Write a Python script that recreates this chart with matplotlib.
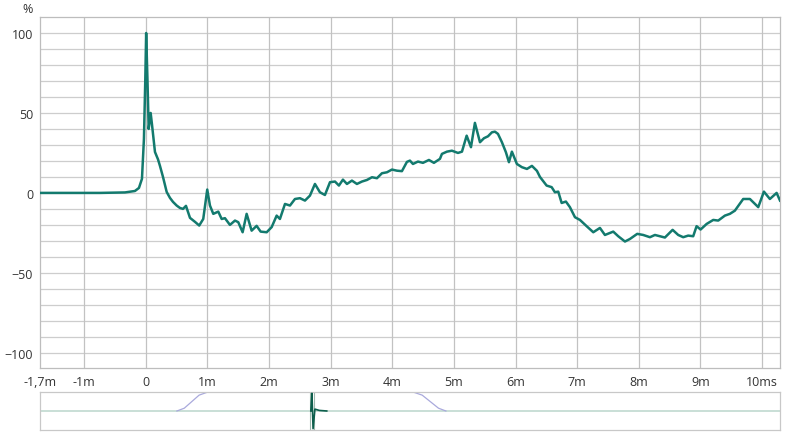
import matplotlib
matplotlib.use("Agg")
import matplotlib.pyplot as plt

plt.rcParams['font.family'] = ['Open Sans', 'DejaVu Sans']

# impulse response, time in ms, amplitude in %
t_ms = [-1.714, -0.741, -0.336, -0.174, -0.109, -0.060, -0.028, -0.006, 0.008, 0.029,
        0.049, 0.081, 0.102, 0.151, 0.200, 0.232, 0.281, 0.341, 0.394, 0.443,
        0.503, 0.556, 0.605, 0.654, 0.719, 0.800, 0.869, 0.934, 0.999, 1.043,
        1.097, 1.178, 1.233, 1.286, 1.367, 1.449, 1.502, 1.573, 1.638, 1.719,
        1.800, 1.865, 1.963, 2.044, 2.125, 2.178, 2.260, 2.341, 2.422, 2.503,
        2.584, 2.665, 2.746, 2.827, 2.908, 2.990, 3.071, 3.135, 3.200, 3.265,
        3.346, 3.427, 3.508, 3.590, 3.671, 3.752, 3.833, 3.914, 3.995, 4.076,
        4.157, 4.238, 4.287, 4.336, 4.417, 4.498, 4.595, 4.676, 4.774, 4.806,
        4.887, 4.968, 5.066, 5.131, 5.207, 5.277, 5.341, 5.423, 5.488, 5.553,
        5.617, 5.666, 5.715, 5.779, 5.844, 5.893, 5.941, 6.022, 6.103, 6.185,
        6.266, 6.347, 6.396, 6.504, 6.586, 6.639, 6.693, 6.748, 6.817, 6.882,
        6.964, 7.045, 7.153, 7.261, 7.369, 7.450, 7.585, 7.666, 7.775, 7.856,
        7.974, 8.071, 8.180, 8.261, 8.342, 8.423, 8.548, 8.639, 8.720, 8.801,
        8.882, 8.937, 9.002, 9.100, 9.207, 9.288, 9.396, 9.477, 9.558, 9.693,
        9.802, 9.937, 10.029, 10.126, 10.235, 10.29]
amp = [0, 0, 0.3, 1.2, 3.1, 8.8, 33.8, 71, 100, 71,
       40, 50, 43, 25.6, 21, 16.9, 10, 0.6, -3.1, -5.6,
       -7.9, -9.4, -10, -8.1, -15.6, -18.1, -20.4, -16.3, 2.1, -7.9,
       -13.1, -11.7, -16.3, -15.8, -20, -17.3, -18.3, -24.6, -13.1, -23.6,
       -20.6, -24.2, -24.6, -21.4, -14.2, -16.3, -6.9, -7.9, -3.8, -3.3,
       -4.8, -1.7, 5.6, 0.4, -1.3, 6.7, 7.1, 4.6, 8.3, 5.6,
       7.7, 5.6, 7.1, 8.1, 9.8, 9.2, 12.3, 12.9, 14.6, 13.9,
       13.6, 19.4, 20.2, 18.1, 19.6, 18.8, 20.6, 18.8, 21.3, 24.4,
       25.8, 26.4, 25, 25.8, 35.8, 28.6, 43.8, 31.7, 34.2, 35.4,
       37.9, 38.3, 36.9, 31.7, 25.4, 19.2, 25.8, 18.1, 16.1, 15,
       16.9, 13.8, 10, 4.6, 3.6, 0.4, 0.8, -6.3, -5.4, -8.9,
       -15.2, -16.9, -20.8, -24.6, -21.9, -26.3, -24.2, -27.1, -30.4, -28.8,
       -25.6, -26.3, -27.7, -26.3, -27.1, -27.9, -23.1, -26.3, -27.7, -26.7,
       -27.1, -20.8, -22.9, -19.4, -16.9, -17.3, -14.2, -13.1, -11.1, -3.8,
       -3.8, -8.9, 0.8, -3.8, 0, -4.8]

x_ticks = [-1.714, -1, 0, 1, 2, 3, 4, 5, 6, 7, 8, 9, 10]
x_labels = ['-1,7m', '-1m', '0', '1m', '2m', '3m', '4m', '5m', '6m', '7m', '8m', '9m', '10ms']
y_ticks = [-100, -50, 0, 50, 100]

# overview strip: window and impulse over the full capture
win_t = [-36.5, -34.5, -32.5, -30.5, -28.4, 27.6, 29.8, 32.0, 34.2, 36.2]
win_v = [0, 0.15, 0.5, 0.85, 1, 1, 0.85, 0.5, 0.15, 0]
imp_t = [-0.3, 0, 0.3, 0.8, 2.0, 4.0]
imp_v = [0, 0.95, -0.95, 0.1, 0.03, 0]

teal = '#137a6e'
text_c = '#333333'

fig = plt.figure(figsize=(8, 4.35), dpi=100)
ax = fig.add_axes([0.05, 0.1517, 0.925, 0.808])
ax.set_xlim(-1.714, 10.29)
ax.set_ylim(-109.5, 110.3)

for v in range(-100, 101, 10):
    ax.axhline(v, color='#cdcdcd', lw=0.9, zorder=1)
for v in x_ticks[1:]:
    ax.axvline(v, color='#c2c2c2', lw=0.9, zorder=1)

ax.plot(t_ms, amp, color=teal, lw=1.8, zorder=3)

ax.set_xticks(x_ticks)
ax.set_xticklabels(x_labels)
ax.set_yticks(y_ticks)
ax.tick_params(length=0, labelsize=9, colors=text_c, pad=5)
for s in ax.spines.values():
    s.set_color('#bdbdbd')
    s.set_linewidth(0.9)
fig.text(0.034, 0.978, '%', fontsize=9, color=text_c, ha='center', va='center')

ov = fig.add_axes([0.05, 0.0092, 0.925, 0.0874])
ov.set_xlim(-73.5, 126.5)
ov.set_ylim(-1.02, 1.02)
ov.axhline(0, color='#c5dcd3', lw=1.3, zorder=1)
ov.plot(win_t, win_v, color='#a9a9dc', lw=0.9, zorder=2)
ov.axvline(-0.6, color='#9fb8ae', lw=0.8, zorder=2)
ov.axvline(0.6, color='#9fb8ae', lw=0.8, zorder=2)
ov.plot(imp_t, imp_v, color='#0d5e4c', lw=1.2, zorder=3)
ov.set_xticks([])
ov.set_yticks([])
for s in ov.spines.values():
    s.set_color('#c8c8c8')
    s.set_linewidth(0.9)

fig.savefig('out.png', dpi=100, facecolor='white')
